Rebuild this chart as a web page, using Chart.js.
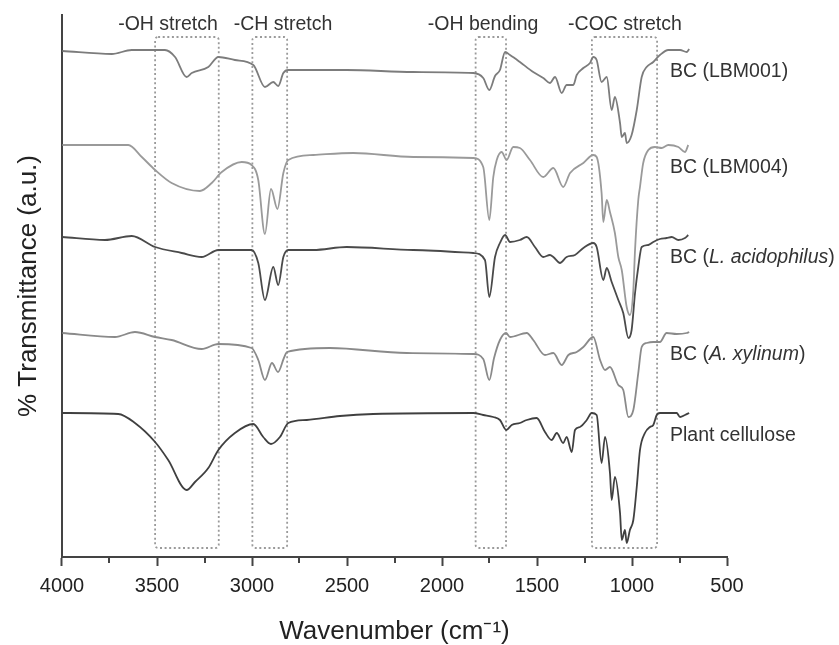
<!DOCTYPE html>
<html>
<head>
<meta charset="utf-8">
<script src="https://cdn.jsdelivr.net/npm/chart.js@4.4.1/dist/chart.umd.min.js"></script>
<style>
  html, body { margin: 0; padding: 0; background: #fff; }
</style>
</head>
<body>
<canvas id="ftir" width="839" height="645"></canvas>
<script>
// FTIR spectra, wavenumber (cm-1) vs transmittance (a.u., offset per sample)
const wnLBM001 = [3998,3738,3633,3458,3405,3344,3317,3230,3177,3090,2993,2932,2888,2862,2835,2809,2502,2151,1835,1783,1751,1721,1695,1668,1642,1590,1520,1467,1432,1405,1370,1344,1309,1291,1256,1221,1204,1186,1160,1133,1107,1090,1063,1054,1037,1028,1002,975,949,923,888,853,809,747,712,699];
const trLBM001 = [506,503,507,507,500,480,484,490,500,497,492,470,475,471,484,487,487,485,484,479,467,481,487,505,502,495,485,479,474,480,464,472,472,482,489,494,500,497,475,480,447,460,434,420,424,414,422,447,480,490,495,502,507,507,505,508];

const wnLBM004 = [3998,3651,3580,3510,3423,3274,3212,3159,3054,3002,2967,2932,2900,2866,2835,2809,2677,2467,2151,1835,1783,1751,1730,1712,1686,1660,1625,1590,1537,1467,1414,1362,1326,1256,1204,1186,1160,1151,1133,1116,1090,1072,1054,1028,1011,993,984,967,958,941,914,879,844,809,756,721,704];
const trLBM004 = [412,412,400,387,374,366,374,385,395,392,377,323,368,348,384,397,402,404,400,399,390,337,380,397,405,397,410,409,397,380,389,370,384,394,402,400,364,335,357,345,324,300,287,250,242,267,307,357,370,394,407,410,409,412,410,405,412];

const wnAcido = [3998,3774,3633,3510,3370,3265,3177,3002,2967,2932,2888,2862,2835,2809,2677,2502,2151,1835,1774,1751,1721,1695,1668,1642,1590,1554,1511,1467,1432,1414,1379,1344,1300,1256,1204,1186,1151,1133,1107,1072,1046,1019,1002,984,967,949,914,888,853,818,791,756,721,704];
const trAcido = [320,317,321,310,304,300,307,307,294,257,290,272,300,307,307,310,307,304,297,260,300,314,322,315,317,320,310,300,302,300,294,300,302,309,314,310,277,289,275,257,244,219,227,264,290,310,312,315,318,319,320,317,319,322];

const wnXylinum = [3998,3721,3616,3510,3423,3265,3177,3002,2967,2932,2895,2863,2832,2816,2590,2186,1835,1783,1751,1726,1695,1663,1642,1554,1520,1458,1414,1370,1335,1291,1256,1204,1168,1142,1116,1072,1046,1019,993,967,949,923,888,853,818,765,712,699];
const trXylinum = [224,220,225,220,217,208,213,209,197,177,194,185,199,205,209,204,203,198,177,199,217,224,220,224,217,202,204,192,202,205,210,220,197,187,190,172,167,140,147,184,210,214,215,215,224,223,224,225];

const wnPlant = [3998,3704,3616,3510,3441,3344,3300,3230,3177,3090,2993,2941,2900,2853,2809,2712,2537,2362,1835,1783,1730,1695,1662,1633,1590,1554,1502,1458,1423,1396,1362,1344,1317,1300,1274,1238,1212,1186,1160,1142,1116,1107,1090,1063,1054,1037,1028,1011,993,975,958,932,905,888,870,853,765,747,721,699];
const trPlant = [144,143,134,115,97,67,75,89,107,124,133,120,113,120,134,137,141,143,144,142,140,137,127,132,134,137,139,125,117,124,114,120,105,127,130,137,144,142,94,120,84,57,80,44,17,27,14,27,37,70,107,124,130,132,142,144,144,140,142,144];

const seriesLabels = ["BC (LBM001)", "BC (LBM004)", "BC (L. acidophilus)", "BC (A. xylinum)", "Plant cellulose"];
const italicParts = ["", "", "L. acidophilus", "A. xylinum", ""];

const boxLabels = ["-OH stretch", "-CH stretch", "-OH bending", "-COC stretch"];
const boxFrom = [3510, 2998, 1823, 1211];
const boxTo = [3175, 2815, 1663, 868];
const boxLabelAt = [3442, 2837, 1784, 1037];
const boxTop = 520, boxBottom = 9;

const xTicksMajor = [4000, 3500, 3000, 2500, 2000, 1500, 1000, 500];
const xTicksMinor = [3750, 3250, 2750, 2250, 1750, 1250, 750];

const colors = ["#7c7c7c", "#9a9a9a", "#4a4a4a", "#8a8a8a", "#404040"];
const FONT = '"Liberation Sans", Arial, sans-serif';

const toPts = (xs, ys) => xs.map((x, i) => ({ x, y: ys[i] }));
const allSeries = [
  toPts(wnLBM001, trLBM001),
  toPts(wnLBM004, trLBM004),
  toPts(wnAcido, trAcido),
  toPts(wnXylinum, trXylinum),
  toPts(wnPlant, trPlant)
];

const extras = {
  id: "extras",
  beforeDatasetsDraw(chart) {
    const { ctx, scales: { x, y } } = chart;
    ctx.save();
    ctx.strokeStyle = "#9a9a9a";
    ctx.lineWidth = 1.8;
    ctx.setLineDash([2, 2.6]);
    boxFrom.forEach((w, i) => {
      const x1 = x.getPixelForValue(w), x2 = x.getPixelForValue(boxTo[i]);
      const y1 = y.getPixelForValue(boxTop), y2 = y.getPixelForValue(boxBottom);
      ctx.beginPath();
      if (ctx.roundRect) ctx.roundRect(x1, y1, x2 - x1, y2 - y1, 3);
      else ctx.rect(x1, y1, x2 - x1, y2 - y1);
      ctx.stroke();
    });
    ctx.restore();
  },
  afterDraw(chart) {
    const { ctx, scales: { x, y } } = chart;
    ctx.save();
    // minor ticks
    ctx.strokeStyle = "#444";
    ctx.lineWidth = 2;
    xTicksMinor.forEach(w => {
      const px = Math.round(x.getPixelForValue(w));
      ctx.beginPath();
      ctx.moveTo(px, y.bottom);
      ctx.lineTo(px, y.bottom + 6);
      ctx.stroke();
    });
    // band labels
    ctx.fillStyle = "#333";
    ctx.font = "19.5px " + FONT;
    ctx.textAlign = "center";
    ctx.textBaseline = "middle";
    boxLabels.forEach((t, i) => {
      ctx.fillText(t, x.getPixelForValue(boxLabelAt[i]), y.getPixelForValue(boxTop) - 12);
    });
    // sample labels next to the curve ends
    ctx.textAlign = "left";
    seriesLabels.forEach((t, i) => {
      const d = allSeries[i];
      const ly = y.getPixelForValue(d[d.length - 1].y) + 23;
      let lx = x.right - 57;
      const it = italicParts[i];
      const parts = it ? [t.slice(0, t.indexOf(it)), it, t.slice(t.indexOf(it) + it.length)] : [t];
      parts.forEach((p, k) => {
        ctx.font = (k === 1 ? "italic " : "") + "19.5px " + FONT;
        ctx.fillText(p, lx, ly);
        lx += ctx.measureText(p).width;
      });
    });
    ctx.restore();
  }
};

new Chart(document.getElementById("ftir"), {
  type: "line",
  data: {
    datasets: allSeries.map((d, i) => ({
      label: seriesLabels[i],
      data: d,
      borderColor: colors[i],
      borderWidth: 1.8,
      pointRadius: 0,
      cubicInterpolationMode: "monotone",
      fill: false
    }))
  },
  options: {
    responsive: false,
    animation: false,
    layout: { padding: { left: 7.4, right: 112, top: 15, bottom: 0 } },
    plugins: { legend: { display: false }, tooltip: { enabled: false } },
    scales: {
      x: {
        type: "linear",
        reverse: true,
        min: 500,
        max: 4000,
        afterBuildTicks: s => { s.ticks = xTicksMajor.map(v => ({ value: v })); },
        ticks: {
          color: "#222",
          font: { family: FONT, size: 20, lineHeight: 1.2 },
          padding: 8,
          maxRotation: 0,
          callback: v => String(v)
        },
        grid: { display: true, drawOnChartArea: false, drawTicks: true, tickLength: 9, tickColor: "#444", tickWidth: 2 },
        border: { display: true, color: "#444", width: 2 },
        title: {
          display: true,
          text: "Wavenumber (cm\u207B\u00B9)",
          color: "#222",
          font: { family: FONT, size: 26, lineHeight: 1.0 },
          padding: { top: 13, bottom: 0 }
        }
      },
      y: {
        min: 0,
        max: 542,
        ticks: { display: false },
        grid: { display: false, drawTicks: false },
        border: { display: true, color: "#444", width: 2 },
        title: {
          display: true,
          text: "% Transmittance (a.u.)",
          color: "#222",
          font: { family: FONT, size: 26, lineHeight: 1.2 },
          padding: { top: 6, bottom: 17.4 }
        }
      }
    }
  },
  plugins: [extras]
});
</script>
</body>
</html>
